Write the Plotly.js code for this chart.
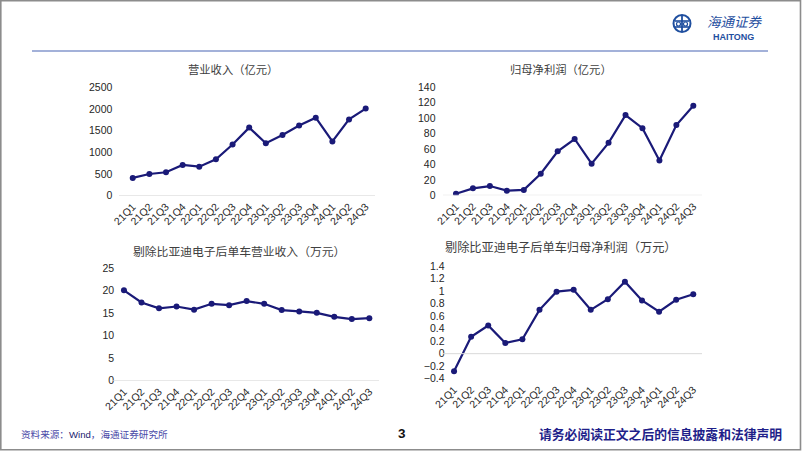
<!DOCTYPE html>
<html>
<head>
<meta charset="utf-8">
<script src="https://cdn.plot.ly/plotly-3.0.1.min.js"></script>
<style>
html,body{margin:0;padding:0;background:#fff;}
#chart{width:802px;height:451px;}
</style>
</head>
<body>
<div id="chart"></div>
<script>
// ---- data ----
const quarters = ["21Q1","21Q2","21Q3","21Q4","22Q1","22Q2","22Q3","22Q4","23Q1","23Q2","23Q3","23Q4","24Q1","24Q2","24Q3"];
const revenue = [410, 500, 540, 710, 670, 840, 1180, 1570, 1210, 1400, 1620, 1800, 1250, 1760, 2010];
const netProfit = [2, 9, 12, 6, 7, 28, 57, 73, 41, 68, 104, 87, 45, 91, 116];
const revPerCar = [20.1, 17.4, 16.1, 16.5, 15.8, 17.1, 16.8, 17.7, 17.1, 15.7, 15.4, 15.1, 14.2, 13.7, 13.9];
const profitPerCar = [-0.28, 0.27, 0.45, 0.17, 0.23, 0.70, 0.99, 1.02, 0.70, 0.87, 1.15, 0.85, 0.67, 0.86, 0.95];

const titles = ["营业收入（亿元）", "归母净利润（亿元）", "剔除比亚迪电子后单车营业收入（万元）", "剔除比亚迪电子后单车归母净利润（万元）"];
const yTicks1 = [0, 500, 1000, 1500, 2000, 2500];
const yTicks2 = [0, 20, 40, 60, 80, 100, 120, 140];
const yTicks3 = [0, 5, 10, 15, 20, 25];
const yTicks4 = [-0.4, -0.2, 0, 0.2, 0.4, 0.6, 0.8, 1, 1.2, 1.4];

const W = 802, H = 451;
const px = x => x / W;
const py = y => 1 - y / H;

const lineColor = '#1a1a78';
const tickFont = {family: 'Liberation Sans, Arial, sans-serif', size: 10.5, color: '#262626'};
const cjk = 'Noto Sans CJK SC, sans-serif';

function trace(y, xa, ya) {
  return {
    x: quarters, y: y, xaxis: xa, yaxis: ya, type: 'scatter', mode: 'lines+markers',
    line: {color: lineColor, width: 2.2}, marker: {color: lineColor, size: 6},
    hoverinfo: 'skip', showlegend: false
  };
}
function xax(l, r) {
  return {domain: [px(l), px(r)], type: 'category', range: [-0.5, 14.5], showgrid: false, zeroline: false,
    showline: false, tickangle: -45, tickfont: tickFont, ticks: '', ticklabelstandoff: 2, fixedrange: true};
}
function yax(top, bot, rng, vals, standoff) {
  return {domain: [py(bot), py(top)], range: rng, tickvals: vals, showgrid: false, zeroline: false,
    showline: false, tickfont: tickFont, ticks: '', ticklabelstandoff: standoff, fixedrange: true};
}

const data = [
  trace(revenue, 'x', 'y'),
  trace(netProfit, 'x2', 'y2'),
  trace(revPerCar, 'x3', 'y3'),
  trace(profitPerCar, 'x4', 'y4')
];

function baseline(l, r, yref) {
  return {type: 'line', xref: 'paper', yref: yref, x0: px(l), x1: px(r), y0: 0, y1: 0,
    line: {color: '#d9d9d9', width: 1}};
}

const shapes = [
  baseline(119, 375, 'y'),
  baseline(443, 702, 'y2'),
  baseline(112, 379, 'y3'),
  baseline(443, 702, 'y4'),
  // header rule
  {type: 'line', xref: 'paper', yref: 'paper', x0: px(32), x1: px(768), y0: py(51), y1: py(51),
    line: {color: '#8597cc', width: 1.5}},
  // frame
  {type: 'rect', xref: 'paper', yref: 'paper', x0: px(0.8), x1: px(800.5), y0: py(449.8), y1: py(0.8),
    line: {color: '#8c8c8c', width: 1.6}},
  // logo
  {type: 'circle', xref: 'paper', yref: 'paper', x0: px(673.5), x1: px(690.5), y0: py(32), y1: py(15),
    line: {color: '#1f4f9f', width: 2}},
  {type: 'line', xref: 'paper', yref: 'paper', x0: px(682), x1: px(682), y0: py(16), y1: py(31),
    line: {color: '#1f4f9f', width: 1.8}},
  {type: 'line', xref: 'paper', yref: 'paper', x0: px(675), x1: px(689), y0: py(21), y1: py(21),
    line: {color: '#1f4f9f', width: 1.6}},
  {type: 'line', xref: 'paper', yref: 'paper', x0: px(675), x1: px(689), y0: py(27), y1: py(27),
    line: {color: '#1f4f9f', width: 1.6}},
  {type: 'circle', xref: 'paper', yref: 'paper', x0: px(676.5), x1: px(680.5), y0: py(26), y1: py(22),
    line: {color: '#1f4f9f', width: 1.2}},
  {type: 'circle', xref: 'paper', yref: 'paper', x0: px(683.5), x1: px(687.5), y0: py(26), y1: py(22),
    line: {color: '#1f4f9f', width: 1.2}}
];

function ann(text, x, y, size, color, opts) {
  return Object.assign({text: text, xref: 'paper', yref: 'paper', x: px(x), y: py(y), xanchor: 'center', yanchor: 'middle',
    showarrow: false, borderpad: 0, font: {family: cjk, size: size, color: color}}, opts || {});
}

const annotations = [
  ann(titles[0], 233, 69, 11.3, '#404040'),
  ann(titles[1], 561, 69, 11.3, '#404040'),
  ann(titles[2], 239, 250, 11.8, '#404040'),
  ann(titles[3], 561, 247, 12.2, '#404040'),
  ann('<i>海通证券</i>', 735, 21.5, 13.5, '#1f4f9f'),
  ann('<b>HAITONG</b>', 733.5, 36.5, 9, '#1f4f9f', {font: {family: 'Liberation Sans, Arial, sans-serif', size: 9, color: '#1f4f9f'}}),
  ann('资料来源：<span style="color:#1a1a6e;font-family:Liberation Sans, Arial">Wind</span>，海通证券研究所', 20, 433.5, 9.6, '#4a4aa8', {xanchor: 'left'}),
  ann('<b>3</b>', 402, 433, 13.5, '#111111', {font: {family: 'Liberation Sans, Arial, sans-serif', size: 13.5, color: '#111'}}),
  ann('<b>请务必阅读正文之后的信息披露和法律声明</b>', 783, 433, 12.8, '#1f1f8a', {xanchor: 'right'})
];

const layout = {
  width: W, height: H, margin: {l: 0, r: 0, t: 0, b: 0},
  paper_bgcolor: '#ffffff', plot_bgcolor: 'rgba(0,0,0,0)',
  showlegend: false,
  xaxis: xax(124.4, 374),
  yaxis: Object.assign(yax(87.3, 195.7, [0, 2500], yTicks1, 11), {anchor: 'x'}),
  xaxis2: Object.assign(xax(447.5, 701.8), {anchor: 'y2'}),
  yaxis2: Object.assign(yax(87.3, 195.3, [0, 140], yTicks2, 11), {anchor: 'x2'}),
  xaxis3: Object.assign(xax(115.2, 378.1), {anchor: 'y3'}),
  yaxis3: Object.assign(yax(268.3, 380.7, [0, 25], yTicks3, 8.5), {anchor: 'x3'}),
  xaxis4: Object.assign(xax(445.5, 701.8), {anchor: 'y4'}),
  yaxis4: Object.assign(yax(266, 378.7, [-0.4, 1.4], yTicks4, 9.5), {anchor: 'x4'}),
  shapes: shapes,
  annotations: annotations
};
layout.xaxis.anchor = 'y';

Plotly.newPlot('chart', data, layout, {staticPlot: true, displayModeBar: false});
</script>
</body>
</html>
